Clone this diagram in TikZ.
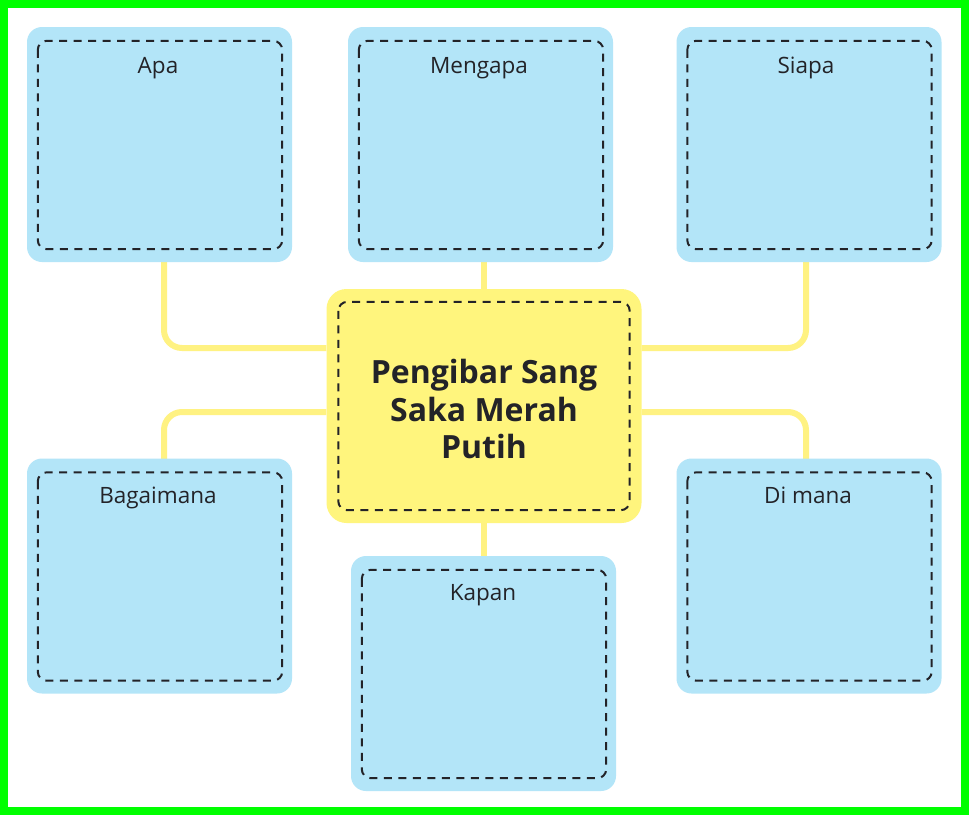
\documentclass[tikz,border=0pt]{standalone}
\usepackage{fontspec}
\setmainfont{Open Sans}
\pgfdeclarelayer{bg}
\pgfsetlayers{bg,main}
\definecolor{boxblue}{RGB}{179,229,248}
\definecolor{boxyellow}{RGB}{255,245,125}
\definecolor{lineyellow}{RGB}{255,242,130}
\definecolor{frame}{RGB}{0,255,0}
\definecolor{dashc}{RGB}{35,35,40}
\tikzset{
  x=1pt, y=-1pt,
  bluebox/.style={rectangle, rounded corners=15pt, fill=boxblue, minimum width=265pt, minimum height=235pt, inner sep=0pt},
  centerbox/.style={rectangle, rounded corners=20pt, fill=boxyellow, minimum width=315pt, minimum height=234pt, inner sep=0pt},
  innerdash/.style={draw=dashc, line width=2pt, dash pattern=on 8pt off 6.5pt, rounded corners=9pt},
  conn/.style={draw=lineyellow, line width=6pt, rounded corners=18pt},
  lab/.style={anchor=base, font=\fontsize{22.5}{27}\selectfont, text=dashc, inner sep=0pt},
  title/.style={align=center, font=\fontsize{32}{37.5}\bfseries\selectfont, text=dashc, inner sep=0pt}
}
\begin{document}
\begin{tikzpicture}
\useasboundingbox (0,0) rectangle (969,815);
\begin{pgfonlayer}{bg}
\fill[white] (0,0) rectangle (969,815);
\end{pgfonlayer}
\draw[frame, line width=8pt] (4,4) rectangle (965,811);

\node[bluebox] (apa) at (159.5,144.5) {};
\node[bluebox] (mengapa) at (480.5,144.5) {};
\node[bluebox] (siapa) at (809,144.5) {};
\node[centerbox] (center) at (484,406) {};
\node[bluebox] (bagaimana) at (159.5,576) {};
\node[bluebox] (dimana) at (809,576) {};
\node[bluebox] (kapan) at (483.5,673.5) {};

\foreach \n in {apa,mengapa,siapa,bagaimana,dimana,kapan}{
  \draw[innerdash] ([shift={(11,14)}]\n.north west) rectangle ([shift={(-10,-13)}]\n.south east);
}
\draw[innerdash] ([shift={(12,13)}]center.north west) rectangle ([shift={(-12,-13)}]center.south east);

\coordinate (apaC) at (164,262);
\coordinate (siapaC) at (806,262);
\coordinate (bagC) at (164,459);
\coordinate (dimC) at (806,459);

\begin{pgfonlayer}{bg}
\draw[conn] (apaC) |- (center.west |- 0,348);
\draw[conn] (siapaC) |- (center.east |- 0,348);
\draw[conn] (bagC) |- (center.west |- 0,412);
\draw[conn] (dimC) |- (center.east |- 0,412);
\draw[conn] (mengapa.south -| center.north) -- (center.north);
\draw[conn] (center.south) -- (kapan.north -| center.south);
\end{pgfonlayer}

\node[lab] (tapa) at (158,73) {Apa};
\node[lab] (tmengapa) at (479,73) {Mengapa};
\node[lab] (tsiapa) at (806,73) {Siapa};
\node[lab] (tbag) at (158,503) {Bagaimana};
\node[lab] (tdim) at (808,503) {Di mana};
\node[lab] (tkapan) at (483,600) {Kapan};
\node[title] (ttitle) at (484,409) {Pengibar Sang\\Saka Merah\\Putih};
\end{tikzpicture}
\end{document}
